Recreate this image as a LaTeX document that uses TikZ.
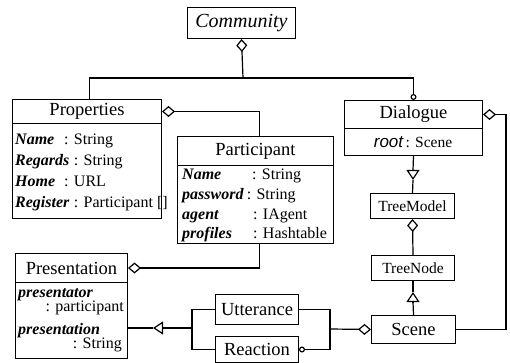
\documentclass[tikz,border=0pt]{standalone}
\usepackage{fontspec}
\setmainfont{Liberation Serif}[ItalicFont={Liberation Serif Italic},BoldFont={Liberation Serif Bold},BoldItalicFont={Liberation Serif Bold Italic}]
\setsansfont{Liberation Sans}
\usetikzlibrary{arrows.meta}
\begin{document}
\begin{tikzpicture}[x=1pt,y=-1pt,
  box/.style={draw,line width=1pt,inner sep=0pt,anchor=north west,align=center},
  hd/.style={font=\fontsize{18.5}{20}\selectfont},
  sm/.style={font=\fontsize{15.5}{17}\selectfont},
  attr/.style={inner sep=0pt,anchor=west,text height=11pt,text depth=3.5pt,font=\fontsize{16}{18}\selectfont},
  attre/.style={attr,anchor=east},
  conn/.style={line width=1.2pt},
  dmd/.style={{Diamond[open,length=13pt,width=11pt]}-},
  circ/.style={{Circle[open,length=6pt,width=6pt]}-},
  circe/.style={-{Circle[open,length=6pt,width=6pt]}},
  tri/.style={-{Triangle[open,length=10pt,width=13pt]}}
]
\useasboundingbox (0,0) rectangle (510,363);
% boxes
\node[box,minimum width=108pt,minimum height=31pt,font=\fontsize{20}{22}\selectfont\itshape] (comm) at (187,7) {Community};
\node[box,hd,minimum width=149pt,minimum height=24pt] (propH) at (12,99) {Properties};
\node[box,minimum width=149pt,minimum height=95pt] (propB) at (12,123) {};
\node[box,hd,minimum width=156pt,minimum height=29pt] (partH) at (177,136) {Participant};
\node[box,minimum width=156pt,minimum height=78pt] (partB) at (177,165) {};
\node[box,hd,minimum width=138pt,minimum height=28pt] (dialH) at (344,100) {Dialogue};
\node[box,minimum width=138pt,minimum height=27pt] (dialB) at (344,128) {};
\node[box,sm,minimum width=84pt,minimum height=25pt] (treeM) at (370,193) {TreeModel};
\node[box,sm,minimum width=83pt,minimum height=25pt] (treeN) at (371,255) {TreeNode};
\node[box,hd,minimum width=84pt,minimum height=28pt] (scene) at (371,315) {Scene};
\node[box,hd,minimum width=83pt,minimum height=30pt] (utt) at (215,294) {Utterance};
\node[box,hd,minimum width=83pt,minimum height=26pt] (reac) at (215,336) {Reaction};
\node[box,hd,minimum width=112pt,minimum height=29pt] (presH) at (15,253) {Presentation};
\node[box,minimum width=112pt,minimum height=76pt] (presB) at (15,282) {};
% attributes: Properties
\node[attr] (pn1) at (15,141) {\textbf{\textit{Name}}};
\node[attr] (pt1) at (64,141) {: String};
\node[attr] (pn2) at (15,162) {\textbf{\textit{Regards}}};
\node[attr] (pt2) at (pn2.east) {\ : String};
\node[attr] (pn3) at (15,183) {\textbf{\textit{Home}}};
\node[attr] (pt3) at (64,183) {: URL};
\node[attr] (pn4) at (15,204) {\textbf{\textit{Register}}};
\node[attr] (pt4) at (pn4.east) {\ : Participant []};
% attributes: Participant
\node[attr] (qn1) at (182,176) {\textbf{\textit{Name}}};
\node[attr] (qt1) at (252,176) {: String};
\node[attr] (qn2) at (182,196) {\textbf{\textit{password}}};
\node[attr] (qt2) at (qn2.east) {\,: String};
\node[attr] (qn3) at (182,216) {\textbf{\textit{agent}}};
\node[attr] (qt3) at (253,216) {: IAgent};
\node[attr] (qn4) at (182,235) {\textbf{\textit{profiles}}};
\node[attr] (qt4) at (253,235) {: Hashtable};
% attributes: Dialogue
\node[inner sep=0pt] (droot) at (413,142) {{\sffamily\itshape\fontsize{17}{18}\selectfont root}\ {\fontsize{15.5}{17}\selectfont: Scene}};
% attributes: Presentation
\node[attr] (rn1) at (18,294) {\textbf{\textit{presentator}}};
\node[attre] (rt1) at (124,308) {: participant};
\node[attr] (rn2) at (18,331) {\textbf{\textit{presentation}}};
\node[attre] (rt2) at (122,345) {: String};
% coordinates
\coordinate (j1) at (243,78);
\coordinate (rx) at (506,0);
\coordinate (jr) at (330,329);
\coordinate (jl) at (192,328);
\coordinate (ta) at (413,170);
\coordinate (tb) at (413,180);
\coordinate (tc) at (413,302);
\coordinate (td) at (413,292);
\coordinate (te) at (163,328);
\coordinate (tf) at (153,328);
% connectors
\draw[conn,dmd] (comm.south) -- (j1);
\draw[conn] ([xshift=2.5pt]propH.north) |- (j1);
\draw[conn,circe] (j1) -| (dialH.north);
\draw[conn,dmd] (propH.east) -| ([xshift=4pt]partH.north);
\draw[conn,dmd] (presH.east) -| ([xshift=4pt]partB.south);
\draw[conn,dmd] (dialH.east) -- (dialH.east -| rx) |- (scene.east);
\draw[conn] (dialB.south) -- (ta);
\draw[conn,tri] (ta) -- (tb);
\draw[conn] (tb) -- (treeM.north);
\draw[conn,dmd] (treeM.south) -- (treeN.north);
\draw[conn] (scene.north) -- (tc);
\draw[conn,tri] (tc) -- (td);
\draw[conn] (td) -- (treeN.south);
\draw[conn,dmd] (scene.west) -- (jr);
\draw[conn] (utt.east) -| (jr);
\draw[conn,circ] (reac.east) -| (jr);
\draw[conn] (utt.west) -| (jl);
\draw[conn] (reac.west) -| (jl);
\draw[conn] (jl) -- (te);
\draw[conn,tri] (te) -- (tf);
\draw[conn] (tf) -- (presB.east |- tf);
\end{tikzpicture}
\end{document}
